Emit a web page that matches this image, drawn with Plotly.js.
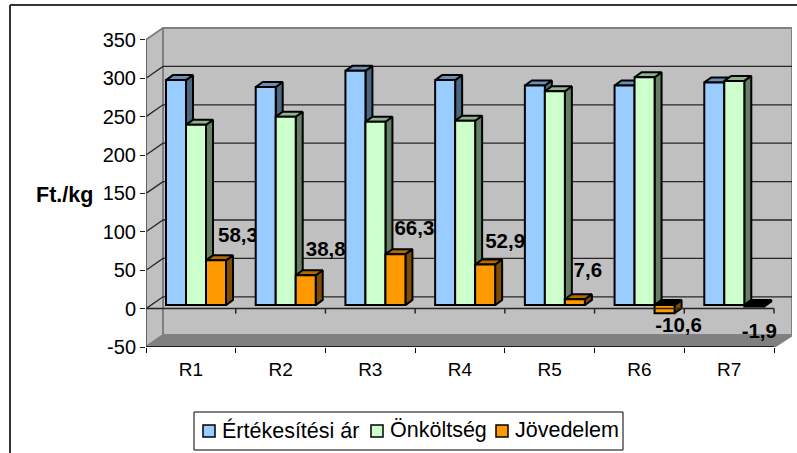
<!DOCTYPE html>
<html><head><meta charset="utf-8">
<script src="https://cdn.plot.ly/plotly-3.0.1.min.js"></script>
<style>html,body{margin:0;padding:0;background:#fff}</style></head>
<body><div id="chart" style="width:797px;height:453px"></div>
<script>
const categories = ['R1','R2','R3','R4','R5','R6','R7'];
const seriesNames = ['Értékesítési ár','Önköltség','Jövedelem'];
const salePrice = [293, 284, 305, 293, 286, 286, 290];
const ownCost = [234.7, 245.2, 238.7, 240.1, 278.4, 296.6, 291.9];
const income = [58.3, 38.8, 66.3, 52.9, 7.6, -10.6, -1.9];
const yTicks = [-50, 0, 50, 100, 150, 200, 250, 300, 350];

// pixel calibration of the oblique 3D look
const PL = 146, PR = 792, PT = 26, PB = 347;
const catPx = 628 / categories.length, unitPx = 0.768;
const xMax = (PR - PL) / catPx, yMin = -50, yMax = yMin + (PB - PT) / unitPx;
const ux = p => p / catPx, uy = p => p / unitPx;
const fx = p => (p - PL) / (PR - PL), fy = p => (PB - p) / (PB - PT);
const DX = ux(17), DY = uy(11.8);      // wall depth
const bw = ux(20), bStart = ux(20);    // bar width, offset of group in a category
const bdx = ux(7), bdy = uy(5);        // bar depth
const baseLift = uy(3.5);              // bars stand mid-floor
const frontEnd = categories.length;

const FONT = 'Liberation Sans, Arial, sans-serif';
const fills = [
  {front:'#99ccff', top:'#6b8fb3', side:'#4d6680'},
  {front:'#ccffcc', top:'#8fb38f', side:'#668066'},
  {front:'#ff9900', top:'#b36b00', side:'#804d00'}
];
const labelDx = [22, 20, 19, 20, 13, 14, 5];
const labelDy = [23, 24, 24, 22, 27, -14, -26];

function poly(x, y, color, line, xa, ya, lw) {
  return {type:'scatter', mode:'lines', x, y, fill:'toself', fillcolor:color,
    line:{color:line, width:lw===undefined?2:lw}, cliponaxis:false, showlegend:false, hoverinfo:'skip',
    xaxis:xa||'x', yaxis:ya||'y'};
}
function lineTrace(x, y, color, width, xa, ya) {
  return {type:'scatter', mode:'lines', x, y, line:{color, width}, cliponaxis:false,
    showlegend:false, hoverinfo:'skip', xaxis:xa||'x', yaxis:ya||'y'};
}

const traces = [];
// walls and floor
const topV = yTicks[yTicks.length-1], botV = yTicks[0];
traces.push(poly([DX,xMax,xMax,DX,DX],[botV+DY,botV+DY,topV+DY,topV+DY,botV+DY],'#c0c0c0','#808080'));
traces.push(poly([0,DX,DX,0,0],[botV,botV+DY,topV+DY,topV,botV],'#c0c0c0','#808080'));
traces.push(poly([0,frontEnd,xMax,DX,0],[botV,botV,botV+DY,botV+DY,botV],'#808080','#808080'));
// grid lines on side and back wall
const gx = [], gy = [];
yTicks.filter(v => v > botV && v < topV).forEach(v => {
  gx.push(0, DX, xMax, null); gy.push(v, v+DY, v+DY, null);
});
traces.push(lineTrace(gx, gy, '#262626', 1.3));

// 3D side and top faces, series by series
[salePrice, ownCost, income].forEach((vals, k) => {
  const sx=[], sy=[], tx=[], ty=[], nx=[], ny=[];
  vals.forEach((v, i) => {
    const x0 = i + bStart + k*bw, x1 = x0 + bw;
    const hi = baseLift + Math.max(v, 0), lo = baseLift + Math.min(v, 0);
    sx.push(x1, x1+bdx, x1+bdx, x1, x1, null);
    sy.push(lo, lo+bdy, hi+bdy, hi, lo, null);
    const px = v < 0 ? nx : tx, py = v < 0 ? ny : ty;
    px.push(x0, x1, x1+bdx, x0+bdx, x0, null);
    py.push(hi, hi, hi+bdy, hi+bdy, hi, null);
  });
  traces.push(poly(sx, sy, fills[k].side, '#000'));
  traces.push(poly(tx, ty, fills[k].top, '#000'));
  if (nx.length) traces.push(poly(nx, ny, '#000', '#000'));
});

// data labels sit below the bars of the next category
traces.push({type:'scatter', mode:'text', cliponaxis:false, showlegend:false, hoverinfo:'skip',
  x: income.map((v,i) => i + bStart + 2.5*bw + ux(labelDx[i])),
  y: income.map((v,i) => baseLift + v + uy(labelDy[i])),
  text: income.map(v => String(v).replace('.', ',')),
  textposition:'middle center',
  textfont:{family:FONT, size:20.5, color:'#000', weight:'bold'}, xaxis:'x', yaxis:'y'});

// front faces as real bars in an overlaying subplot
[salePrice, ownCost, income].forEach((vals, k) => {
  traces.push({type:'bar', name:seriesNames[k], x:categories.map((c,i)=>i+0.5), y:vals,
    base:baseLift, width:bw, offset:bStart + k*bw - 0.5, showlegend:false,
    marker:{color:fills[k].front, line:{color:'#000', width:2}},
    hoverinfo:'y', xaxis:'x2', yaxis:'y2'});
});

// axis lines over everything
traces.push(lineTrace([0,0],[botV,topV],'#5a5a5a',1.5,'x2','y2'));
traces.push(lineTrace([0,frontEnd],[botV,botV],'#000',1.6,'x2','y2'));
traces.push(lineTrace([frontEnd,xMax],[botV,botV+DY],'#808080',1.5,'x2','y2'));
const zx=[0,frontEnd,null], zy=[0,0,null];
categories.forEach((c,i) => { zx.push(i+1,i+1,null); zy.push(0,-uy(5),null); });
traces.push(lineTrace(zx, zy, '#262626', 1.5, 'x2', 'y2'));

// legend, laid out tightly as in the reference
const legendSwatchX = [203, 371, 496], legendTextX = [222, 390, 515];
const paperLine = (x0,y0,x1,y1) => ({type:'line', xref:'paper', yref:'paper', x0:fx(x0), y0:fy(y0), x1:fx(x1), y1:fy(y1), line:{color:'#333', width:2}});
const shapes = [
  paperLine(10,5,797,5), paperLine(10,5,10,453),
  {type:'rect', xref:'paper', yref:'paper', x0:fx(194), x1:fx(623), y0:fy(412), y1:fy(450), fillcolor:'#fff', line:{color:'#000', width:1}}
];
const annotations = [{xref:'paper', yref:'paper', x:fx(64), y:fy(195), xanchor:'center', yanchor:'middle',
  text:'<b>Ft./kg</b>', showarrow:false, font:{size:21.5, family:FONT, color:'#000'}}];
seriesNames.forEach((n,k) => {
  shapes.push({type:'rect', xref:'paper', yref:'paper', x0:fx(legendSwatchX[k]), x1:fx(legendSwatchX[k]+12),
    y0:fy(425), y1:fy(437), fillcolor:fills[k].front, line:{color:'#000', width:1.5}});
  annotations.push({xref:'paper', yref:'paper', x:fx(legendTextX[k]), y:fy(430), xanchor:'left', yanchor:'middle',
    xshift:-2, text:n, showarrow:false, font:{size:21.5, family:FONT, color:'#000'}});
});

const layout = {
  width:797, height:453, autosize:false,
  margin:{l:PL, r:797-PR, t:PT, b:453-PB, pad:0},
  paper_bgcolor:'#fff', plot_bgcolor:'rgba(0,0,0,0)',
  font:{family:FONT, color:'#000'},
  barmode:'overlay', showlegend:false,
  xaxis:{range:[0,xMax], tickmode:'array', tickvals:categories.map((c,i)=>i+0.5), ticktext:categories,
    showgrid:false, zeroline:false, showline:false, ticks:'outside', ticklen:5, tickcolor:'rgba(0,0,0,0)',
    tickfont:{size:19, family:FONT},
    minor:{tickmode:'array', tickvals:categories.map((c,i)=>i).concat([categories.length]), ticks:'outside', ticklen:5, tickcolor:'#000', showgrid:false}},
  yaxis:{range:[yMin,yMax], tickmode:'array', tickvals:yTicks, ticktext:yTicks.map(String), showgrid:false,
    zeroline:false, showline:false, ticks:'outside', ticklen:5, tickcolor:'#222', tickfont:{size:20, family:FONT}},
  xaxis2:{range:[0,xMax], overlaying:'x', visible:false, anchor:'y2'},
  yaxis2:{range:[yMin,yMax], overlaying:'y', visible:false, anchor:'x2'},
  annotations, shapes
};
Plotly.newPlot('chart', traces, layout, {displayModeBar:false});
</script></body></html>
